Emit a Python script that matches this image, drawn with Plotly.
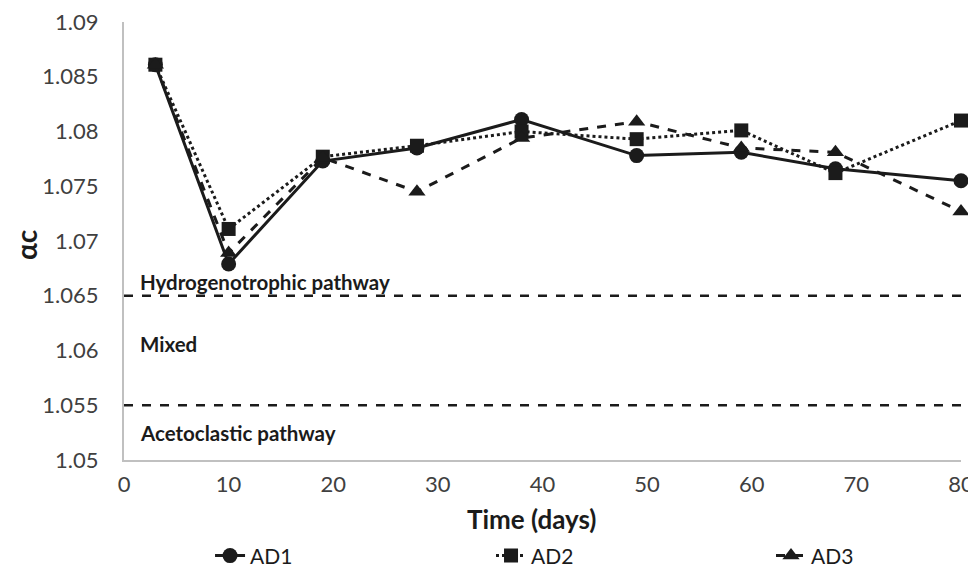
import plotly.graph_objects as go

days = [3, 10, 19, 28, 38, 49, 59, 68, 80]
ad1 = [1.0861, 1.0679, 1.0773, 1.0785, 1.0811, 1.0778, 1.0781, 1.0766, 1.0755]
ad2 = [1.0861, 1.0711, 1.0777, 1.0787, 1.0800, 1.0793, 1.0801, 1.0762, 1.0810]
ad3 = [1.0861, 1.0689, 1.0776, 1.0745, 1.0794, 1.0809, 1.0785, 1.0781, 1.0727]
thresholds = [1.065, 1.055]
zone_labels = ["Hydrogenotrophic pathway", "Mixed", "Acetoclastic pathway"]
zone_label_y = [1.0663, 1.0606, 1.0525]
x_ticks = [0, 10, 20, 30, 40, 50, 60, 70, 80]
y_ticks = [1.05, 1.055, 1.06, 1.065, 1.07, 1.075, 1.08, 1.085, 1.09]

FONT = "Lato, 'Open Sans', sans-serif"
INK = "#1b1b1b"
TICK = "#404040"

fig = go.Figure()
series = [
    ("AD1", ad1, "solid", "circle", 15, "legend", 0.1028),
    ("AD2", ad2, "dot", "square", 14, "legend2", 0.4385),
    ("AD3", ad3, "dash", "triangle-up", 15, "legend3", 0.773),
]
for name, vals, dash, sym, sz, leg, lx in series:
    fig.add_trace(go.Scatter(
        x=days, y=vals, name=name, mode="lines+markers",
        line=dict(color=INK, width=3, dash=dash),
        marker=dict(symbol=sym, size=sz, color=INK),
        cliponaxis=False, legend=leg,
    ))

for t in thresholds:
    fig.add_shape(type="line", xref="paper", yref="y", x0=0, x1=1, y0=t, y1=t,
                  line=dict(color=INK, width=2.5, dash="dash"))

for lbl, yy in zip(zone_labels, zone_label_y):
    fig.add_annotation(text=lbl, x=1.3, y=yy, xref="x", yref="y", showarrow=False,
                       xanchor="left", yanchor="middle",
                       font=dict(family=FONT, size=20.5, color=INK, weight="bold"))

fig.add_annotation(text="<b>Time (days)</b>", x=0.487, y=-0.135, xref="paper", yref="paper",
                   showarrow=False, xanchor="center", yanchor="middle",
                   font=dict(family=FONT, size=26, color=INK))
fig.add_annotation(text="<b>αc</b>", x=-0.117, y=0.491, xref="paper", yref="paper",
                   showarrow=False, xanchor="center", yanchor="middle", textangle=-90,
                   font=dict(family=FONT, size=28, color=INK))

leg_common = dict(orientation="h", xanchor="left", y=-0.219, yanchor="middle",
                  font=dict(family=FONT, size=21, color=INK), bgcolor="rgba(0,0,0,0)")
fig.update_layout(
    width=968, height=564,
    margin=dict(l=116, r=15, t=14, b=112, autoexpand=False),
    plot_bgcolor="white", paper_bgcolor="white",
    font=dict(family=FONT, color=TICK, size=22),
    showlegend=True,
    legend=dict(x=series[0][6], **leg_common),
    legend2=dict(x=series[1][6], **leg_common),
    legend3=dict(x=series[2][6], **leg_common),
)
fig.update_xaxes(range=[0, 80], tickvals=x_ticks, showgrid=False, zeroline=False,
                 showline=True, linecolor="#c0c0c0", linewidth=2, ticks="",
                 ticklabelstandoff=4, automargin=False, ticklabeloverflow="allow",
                 tickfont=dict(family=FONT, size=22, color=TICK))
fig.update_yaxes(range=[1.05, 1.09], tickvals=y_ticks,
                 ticktext=[("%g" % v) for v in y_ticks], showgrid=False, zeroline=False,
                 showline=True, linecolor="#c0c0c0", linewidth=2, ticks="",
                 ticklabelstandoff=19, automargin=False, ticklabeloverflow="allow",
                 tickfont=dict(family=FONT, size=22, color=TICK))

fig.write_html("out.html")
